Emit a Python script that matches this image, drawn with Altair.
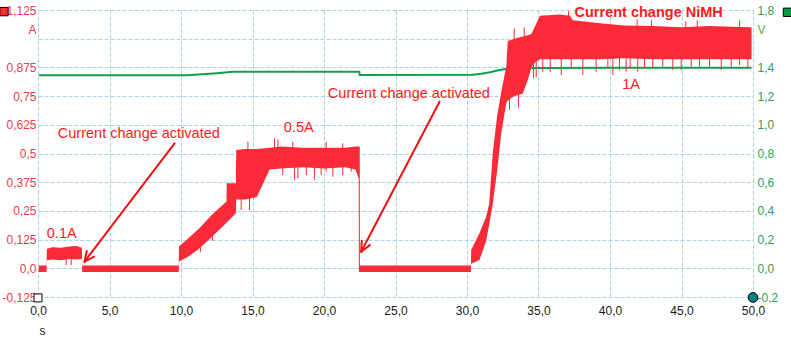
import altair as alt
import pandas as pd

# ---------------- data ----------------
# Current (A): time (s), lower and upper envelope of the noisy trace
cur_t = [0.05, 0.60, 0.62, 1.0, 1.6, 2.2, 2.7, 3.07, 3.09, 9.84, 9.86, 10.5, 11.3, 12.2,
         13.04, 13.18, 13.20, 13.84, 13.86, 14.5, 15.3, 16.2, 17.0, 18.5, 20.0, 21.5, 22.2,
         22.43, 22.44, 22.50, 22.51, 30.27, 30.29, 30.87, 31.34, 31.55, 31.8, 32.1, 32.4,
         32.75, 32.85, 33.3, 33.9, 34.25, 34.5, 34.8, 35.1, 36.5, 37.2, 37.4, 39.3, 41.0,
         43.0, 45.0, 47.0, 48.5, 49.9]
cur_lo = [-0.016, -0.016, 0.035, 0.038, 0.035, 0.04, 0.038, 0.04, -0.016, -0.016, 0.03, 0.05,
          0.087, 0.14, 0.19, 0.20, 0.20, 0.24, 0.30, 0.30, 0.31, 0.43, 0.435, 0.44, 0.435,
          0.44, 0.43, 0.39, -0.016, -0.016, -0.016, -0.016, 0.02, 0.036, 0.12, 0.19, 0.28,
          0.42, 0.59, 0.72, 0.73, 0.75, 0.76, 0.82, 0.875, 0.90, 0.91, 0.91, 0.91, 0.91,
          0.91, 0.915, 0.91, 0.91, 0.91, 0.91, 0.91]
cur_hi = [0.012, 0.012, 0.085, 0.092, 0.09, 0.095, 0.097, 0.09, 0.012, 0.012, 0.095, 0.13,
          0.175, 0.235, 0.283, 0.29, 0.37, 0.37, 0.515, 0.52, 0.52, 0.525, 0.53, 0.525, 0.525,
          0.525, 0.53, 0.53, 0.53, 0.53, 0.012, 0.012, 0.08, 0.153, 0.225, 0.28, 0.50, 0.66,
          0.77, 0.88, 0.99, 1.0, 1.01, 1.015, 1.02, 1.06, 1.10, 1.105, 1.10, 1.08, 1.067,
          1.058, 1.055, 1.05, 1.055, 1.052, 1.05]

# Individual noise spikes: time, tip value, base value (A)
spk_t = [1.97, 2.32, 11.36, 12.2, 14.21, 14.79, 17.12, 17.94, 18.17, 18.76, 19.34, 19.80,
         20.15, 20.62, 21.31, 21.90, 14.68, 16.54, 16.78, 17.82, 20.15, 21.31, 32.97, 33.6,
         34.65, 34.84, 35.30, 35.82, 36.59, 37.29, 38.10, 39.03, 39.85, 40.20, 40.66, 41.13,
         41.41, 41.94, 42.41, 42.99, 43.69, 44.39, 44.98, 45.68, 46.26, 46.96, 47.78, 48.48,
         49.06, 49.64, 33.3, 34.0, 37.1, 41.9, 42.9, 45.3, 46.1, 49.06]
spk_tip = [0.014, 0.014, 0.072, 0.12, 0.254, 0.254, 0.406, 0.385, 0.392, 0.406, 0.385, 0.406,
           0.421, 0.399, 0.406, 0.421, 0.551, 0.566, 0.56, 0.551, 0.551, 0.544, 0.69, 0.70,
           0.827, 0.832, 0.856, 0.856, 0.842, 0.871, 0.842, 0.856, 0.871, 0.842, 0.864, 0.856,
           0.871, 0.856, 0.871, 0.871, 0.878, 0.864, 0.864, 0.878, 0.878, 0.878, 0.864, 0.878,
           0.885, 0.871, 1.045, 1.05, 1.12, 1.085, 1.08, 1.075, 1.08, 1.08]
spk_base = [0.05, 0.05, 0.10, 0.15, 0.32, 0.32, 0.45, 0.45, 0.45, 0.45, 0.45, 0.45, 0.45,
            0.45, 0.45, 0.45, 0.50, 0.50, 0.50, 0.50, 0.50, 0.50, 0.75, 0.77, 0.93, 0.93,
            0.93, 0.93, 0.93, 0.93, 0.93, 0.93, 0.93, 0.93, 0.93, 0.93, 0.93, 0.93, 0.93,
            0.93, 0.93, 0.93, 0.93, 0.93, 0.93, 0.93, 0.93, 0.93, 0.93, 0.93, 0.98, 0.98,
            1.0, 1.0, 1.0, 1.0, 1.0, 1.0]

# Voltage (V)
volt_t = [0.05, 10.4, 11.5, 12.5, 13.6, 22.47, 22.50, 30.4, 31.0, 31.6, 32.2, 32.8, 35.0,
          40.0, 45.0, 49.9]
volt_v = [1.345, 1.345, 1.352, 1.360, 1.370, 1.370, 1.347, 1.348, 1.355, 1.366, 1.380, 1.390,
          1.396, 1.398, 1.398, 1.398]

# Axis ticks
x_ticks = [0, 5, 10, 15, 20, 25, 30, 35, 40, 45, 50]
amp_ticks = [-0.125, 0, 0.125, 0.25, 0.375, 0.5, 0.625, 0.75, 0.875, 1.0, 1.125]
volt_ticks = [-0.2, 0, 0.2, 0.4, 0.6, 0.8, 1.0, 1.2, 1.4, 1.6, 1.8]

# Annotations (placed in data coordinates: s, A)
ann_text = ["Current change activated", "Current change activated", "0.1A", "0.5A", "1A"]
ann_t = [1.385, 20.27, 0.615, 17.19, 40.85]
ann_a = [0.569, 0.740, 0.134, 0.595, 0.7795]
title_text = ["Current change NiMH"]
title_t = [37.52]
title_a = [1.0957]

# Arrows: shaft + two head strokes per arrow (s, A)
arr_t1 = [9.55, 3.25, 3.25, 28.08, 22.60, 22.60]
arr_a1 = [0.544, 0.029, 0.029, 0.7255, 0.0723, 0.0723]
arr_t2 = [3.25, 3.93, 3.41, 22.60, 23.21, 22.64]
arr_a2 = [0.029, 0.051, 0.075, 0.0723, 0.101, 0.120]

# Corner legend markers (s, A)
mk_t = [-2.38, 52.41, 0.0, 50.0]
mk_a = [1.118, 1.115, -0.129, -0.127]

RED = "#fb2a38"
TXT_RED = "#ff1a1a"
GREEN = "#10a04c"
GRID = "#a6d6e0"
FONT = "Liberation Sans"

band_df = pd.DataFrame({"t": cur_t, "lo": cur_lo, "hi": cur_hi})
spk_df = pd.DataFrame({"t": spk_t, "tip": spk_tip, "base": spk_base})
volt_df = pd.DataFrame({"t": volt_t, "v": volt_v})
ann_df = pd.DataFrame({"t": ann_t, "a": ann_a, "txt": ann_text})
title_df = pd.DataFrame({"t": title_t, "a": title_a, "txt": title_text})
arr_df = pd.DataFrame({"t1": arr_t1, "a1": arr_a1, "t2": arr_t2, "a2": arr_a2})

xscale = alt.Scale(domain=[0, 50], nice=False, zero=False)
ascale = alt.Scale(domain=[-0.125, 1.125], nice=False, zero=False)
vscale = alt.Scale(domain=[-0.2, 1.8], nice=False, zero=False)

x_axis = alt.Axis(values=x_ticks, labelExpr="replace(format(datum.value, '.1f'), '.', ',')",
                  title="s", titleAngle=0, titleX=4, titleY=33, titleAlign="center",
                  titleBaseline="middle", titleColor="#222222", titleFont=FONT,
                  titleFontSize=12, titleFontWeight="normal",
                  labelColor="#1a1a1a", labelFont=FONT, labelFontSize=12, labelPadding=8,
                  labelFlush=False, labelOverlap=False,
                  grid=True, gridColor=GRID, gridDash=[4, 2], gridWidth=1,
                  domain=False, ticks=False)

amp_axis = alt.Axis(orient="left", values=amp_ticks,
                    labelExpr="datum.value == 1 ? '' : (datum.value == 0 ? '0,0' : replace('' + datum.value, '.', ','))",
                    title="A", titleAngle=0, titleX=-2, titleY=19, titleAlign="right",
                    titleBaseline="middle", titleColor="#f03a4c", titleFont=FONT,
                    titleFontSize=12, titleFontWeight="normal",
                    labelColor="#f03a4c", labelFont=FONT, labelFontSize=12, labelPadding=2,
                    labelOverlap=False, labelFlush=False,
                    grid=True, gridColor=GRID, gridDash=[4, 2], gridWidth=1,
                    domain=False, ticks=False)

volt_axis = alt.Axis(orient="right", values=volt_ticks,
                     labelExpr="datum.value == 1.6 ? '' : (datum.value == 0 ? '0,0' : (datum.value == 1 ? '1,0' : replace('' + datum.value, '.', ',')))",
                     title="V", titleAngle=0, titleX=4, titleY=19, titleAlign="left",
                     titleBaseline="middle", titleColor="#6aa83a", titleFont=FONT,
                     titleFontSize=12, titleFontWeight="normal",
                     labelColor="#2aa25a", labelFont=FONT, labelFontSize=12, labelPadding=4,
                     labelOverlap=False, labelFlush=False,
                     grid=False, domain=False, ticks=False)

X = lambda f: alt.X(f, scale=xscale, axis=x_axis)
YA = lambda f: alt.Y(f, scale=ascale, axis=amp_axis)

# Voltage layer (right axis)
volt = alt.Chart(volt_df).mark_line(color=GREEN, strokeWidth=2).encode(
    x=X("t:Q"),
    y=alt.Y("v:Q", scale=vscale, axis=volt_axis),
)

# Current layers (left axis)
band = alt.Chart(band_df).mark_area(color=RED, opacity=1).encode(
    x=X("t:Q"), y=YA("lo:Q"), y2="hi:Q",
)
spikes = alt.Chart(spk_df).mark_rule(color=RED, strokeWidth=1).encode(
    x=X("t:Q"), y=YA("tip:Q"), y2="base:Q",
)
arrows = alt.Chart(arr_df).mark_rule(color="#ee1111", strokeWidth=2, strokeCap="round").encode(
    x=X("t1:Q"), y=YA("a1:Q"), x2="t2:Q", y2="a2:Q",
)
notes = alt.Chart(ann_df).mark_text(color=TXT_RED, font=FONT, fontSize=14.5, align="left",
                                    baseline="alphabetic").encode(
    x=X("t:Q"), y=YA("a:Q"), text="txt:N",
)
title = alt.Chart(title_df).mark_text(color=TXT_RED, font=FONT, fontSize=14.5, fontWeight="bold",
                                      align="left", baseline="alphabetic").encode(
    x=X("t:Q"), y=YA("a:Q"), text="txt:N",
)

def marker(i, shape, fill, size):
    d = pd.DataFrame({"t": [mk_t[i]], "a": [mk_a[i]]})
    return alt.Chart(d).mark_point(shape=shape, filled=True, fill=fill, stroke="black",
                                   strokeWidth=1, size=size, opacity=1).encode(
        x=X("t:Q"), y=YA("a:Q"),
    )

m1 = marker(0, "square", "#ff2a2a", 70)
m2 = marker(1, "square", "#0a9a4a", 70)
m3 = marker(2, "square", "white", 64)
m4 = marker(3, "circle", "#008080", 95)

amp = alt.layer(band, spikes, arrows, notes, title, m1, m2, m3, m4)

chart = alt.layer(volt, amp).resolve_scale(y="independent").properties(
    width=715, height=287,
    autosize=alt.AutoSizeParams(type="none"),
    padding={"left": 38, "top": 10, "right": 38, "bottom": 41},
    background="white",
).configure_view(stroke=None)

chart.save("out.html", embed_options={"renderer": "svg", "actions": False})
